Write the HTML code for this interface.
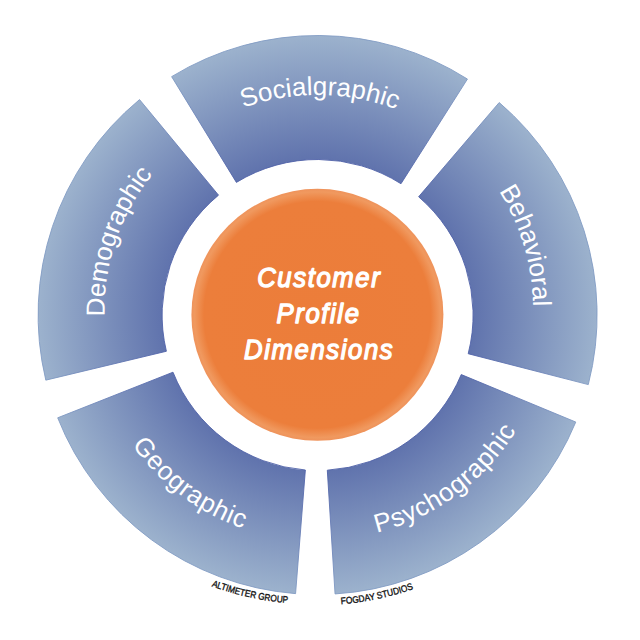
<!DOCTYPE html><html><head><meta charset="utf-8"><style>html,body{margin:0;padding:0;background:#fff;width:640px;height:640px;overflow:hidden}svg{display:block}text{font-family:"Liberation Sans",sans-serif}</style></head><body>
<svg width="640" height="640" viewBox="0 0 640 640">
<defs>
<radialGradient id="sg" gradientUnits="userSpaceOnUse" cx="317.6" cy="315.0" r="279.5"><stop offset="0.5564" stop-color="#6073AD"/><stop offset="1" stop-color="#9CB2CD"/></radialGradient>
<radialGradient id="og" gradientUnits="userSpaceOnUse" cx="317.4" cy="314.8" r="126"><stop offset="0" stop-color="#EC7D3A"/><stop offset="0.9" stop-color="#EC7E3B"/><stop offset="0.975" stop-color="#F0995F"/><stop offset="1" stop-color="#EF935B"/></radialGradient>
<path id="p0" d="M128.24 203.01 L129.22 201.36 L130.22 199.72 L131.23 198.09 L132.26 196.47 L133.30 194.86 L134.36 193.25 L135.43 191.66 L136.51 190.07 L137.61 188.50 L138.72 186.93 L139.84 185.38 L140.98 183.83 L142.13 182.29 L143.30 180.77 L144.47 179.25 L145.67 177.75 L146.87 176.25 L148.09 174.77 L149.32 173.29 L150.56 171.83 L151.82 170.38 L153.08 168.94 L154.37 167.51 L155.66 166.09 L156.96 164.68 L158.28 163.28 L159.61 161.90 L160.95 160.53 L162.31 159.17 L163.67 157.82 L165.05 156.48 L166.44 155.15 L167.84 153.84 L169.25 152.54 L170.68 151.25 L172.11 149.98 L173.56 148.71 L175.01 147.46 L176.48 146.22 L177.96 145.00 L179.45 143.79 L180.95 142.59 L182.46 141.40 L183.98 140.23 L185.51 139.07 L187.05 137.92 L188.60 136.79 L190.16 135.67 L191.73 134.57 L193.31 133.48 L194.90 132.40 L196.49 131.33 L198.10 130.28 L199.72 129.25 L201.34 128.23 L202.98 127.22 L204.62 126.23 L206.27 125.25 L207.93 124.28 L209.60 123.33 L211.28 122.40 L212.96 121.48 L214.66 120.57 L216.36 119.68 L218.06 118.80 L219.78 117.94 L221.50 117.10 L223.23 116.27 L224.97 115.45 L226.72 114.65 L228.47 113.86 L230.23 113.09 L231.99 112.34 L233.76 111.60 L235.54 110.88 L237.33 110.17 L239.12 109.48 L240.91 108.80 L242.72 108.14 L244.52 107.49 L246.34 106.86 L248.16 106.25 L249.98 105.65 L251.81 105.07 L253.65 104.50 L255.48 103.95 L257.33 103.42 L259.18 102.90 L261.03 102.40 L262.89 101.91 L264.75 101.44 L266.62 100.99 L268.48 100.55 L270.36 100.13 L272.24 99.73 L274.12 99.34 L276.00 98.97 L277.89 98.61 L279.78 98.28 L281.67 97.95 L283.56 97.65 L285.46 97.36 L287.36 97.09 L289.26 96.83 L291.17 96.59 L293.08 96.37 L294.99 96.17 L296.90 95.98 L298.81 95.80 L300.72 95.65 L302.64 95.51 L304.55 95.39 L306.47 95.28 L308.39 95.19 L310.31 95.12 L312.22 95.07 L314.14 95.03 L316.06 95.01 L317.98 95.00 L319.90 95.01 L321.82 95.04 L323.74 95.09 L325.66 95.15 L327.58 95.23 L329.50 95.32 L331.41 95.43 L333.33 95.56 L335.24 95.71 L337.16 95.87 L339.07 96.05 L340.98 96.25 L342.89 96.46 L344.79 96.69 L346.70 96.93 L348.60 97.19 L350.50 97.47 L352.39 97.77 L354.29 98.08 L356.18 98.41 L358.07 98.75 L359.95 99.12 L361.84 99.49 L363.72 99.89 L365.59 100.30 L367.46 100.73 L369.33 101.17 L371.20 101.63 L373.06 102.10 L374.91 102.60 L376.76 103.10 L378.61 103.63 L380.45 104.17 L382.29 104.73 L384.12 105.30 L385.95 105.89 L387.77 106.49 L389.59 107.11 L391.40 107.75 L393.21 108.40 L395.01 109.07 L396.80 109.75 L398.59 110.45 L400.37 111.16 L402.14 111.89 L403.91 112.64 L405.68 113.40 L407.43 114.18 L409.18 114.97 L410.92 115.77 L412.66 116.60 L414.39 117.43 L416.11 118.29 L417.82 119.15 L419.53 120.04 L421.22 120.93 L422.91 121.84 L424.59 122.77 L426.27 123.71 L427.93 124.67 L429.59 125.64 L431.24 126.62 L432.88 127.62 L434.51 128.63 L436.13 129.66 L437.74 130.70 L439.35 131.76 L440.94 132.83 L442.53 133.91 L444.10 135.01 L445.67 136.12 L447.22 137.24 L448.77 138.38 L450.31 139.53 L451.83 140.70 L453.35 141.87 L454.85 143.07 L456.35 144.27 L457.83 145.49 L459.31 146.72 L460.77 147.96 L462.22 149.22 L463.66 150.48 L465.09 151.77 L466.51 153.06 L467.92 154.36 L469.32 155.68 L470.70 157.01 L472.07 158.35 L473.43 159.71 L474.78 161.07 L476.12 162.45 L477.45 163.84 L478.76 165.24 L480.06 166.65 L481.35 168.08 L482.62 169.51 L483.89 170.96 L485.14 172.41 L486.38 173.88 L487.60 175.36 L488.81 176.85 L490.01 178.35 L491.20 179.86 L492.37 181.38 L493.53 182.91 L494.68 184.45 L495.81 186.00 L496.93 187.56 L498.03 189.13 L499.12 190.71 L500.20 192.30 L501.27 193.89 L502.32 195.50 L503.35 197.12 L504.37 198.74 L505.38 200.38 L506.37 202.02 L507.35 203.67 L508.32 205.33 L509.27 207.00"/>
<path id="p1" d="M362.86 94.91 L364.77 95.37 L366.67 95.85 L368.56 96.34 L370.46 96.85 L372.34 97.38 L374.23 97.92 L376.10 98.48 L377.97 99.06 L379.84 99.65 L381.70 100.26 L383.55 100.89 L385.40 101.53 L387.24 102.18 L389.08 102.86 L390.91 103.55 L392.73 104.25 L394.54 104.97 L396.35 105.71 L398.15 106.46 L399.95 107.22 L401.74 108.01 L403.52 108.80 L405.29 109.62 L407.05 110.44 L408.81 111.29 L410.56 112.15 L412.30 113.02 L414.03 113.91 L415.76 114.81 L417.48 115.73 L419.18 116.66 L420.88 117.61 L422.57 118.57 L424.25 119.55 L425.93 120.54 L427.59 121.54 L429.24 122.56 L430.89 123.59 L432.52 124.64 L434.15 125.70 L435.76 126.78 L437.37 127.87 L438.97 128.97 L440.55 130.08 L442.13 131.21 L443.69 132.36 L445.25 133.51 L446.79 134.68 L448.32 135.87 L449.85 137.06 L451.36 138.27 L452.86 139.49 L454.35 140.73 L455.82 141.97 L457.29 143.23 L458.75 144.50 L460.19 145.79 L461.62 147.08 L463.04 148.39 L464.45 149.71 L465.85 151.05 L467.23 152.39 L468.61 153.75 L469.97 155.11 L471.31 156.49 L472.65 157.88 L473.97 159.28 L475.28 160.70 L476.58 162.12 L477.86 163.55 L479.13 165.00 L480.39 166.45 L481.64 167.92 L482.87 169.40 L484.09 170.88 L485.29 172.38 L486.49 173.89 L487.67 175.41 L488.83 176.93 L489.98 178.47 L491.12 180.02 L492.24 181.57 L493.35 183.14 L494.45 184.71 L495.53 186.29 L496.60 187.89 L497.65 189.49 L498.69 191.10 L499.71 192.72 L500.72 194.34 L501.72 195.98 L502.70 197.62 L503.67 199.27 L504.62 200.93 L505.56 202.60 L506.48 204.27 L507.38 205.96 L508.28 207.65 L509.15 209.34 L510.02 211.05 L510.86 212.76 L511.69 214.48 L512.51 216.20 L513.31 217.93 L514.10 219.67 L514.87 221.42 L515.62 223.17 L516.36 224.92 L517.08 226.68 L517.79 228.45 L518.48 230.23 L519.16 232.00 L519.82 233.79 L520.47 235.58 L521.10 237.37 L521.71 239.17 L522.31 240.98 L522.89 242.79 L523.45 244.60 L524.00 246.42 L524.54 248.24 L525.06 250.07 L525.56 251.90 L526.04 253.73 L526.51 255.57 L526.96 257.41 L527.40 259.25 L527.82 261.10 L528.22 262.95 L528.61 264.81 L528.98 266.66 L529.34 268.52 L529.68 270.39 L530.00 272.25 L530.31 274.12 L530.60 275.98 L530.87 277.86 L531.13 279.73 L531.37 281.60 L531.59 283.48 L531.80 285.35 L531.99 287.23 L532.16 289.11 L532.32 290.99 L532.46 292.87 L532.59 294.75 L532.70 296.64 L532.79 298.52 L532.87 300.40 L532.92 302.28 L532.97 304.17 L532.99 306.05 L533.00 307.93 L533.00 309.81 L532.97 311.69 L532.94 313.57 L532.88 315.45 L532.81 317.33 L532.72 319.21 L532.61 321.08 L532.49 322.95 L532.36 324.83 L532.20 326.70 L532.03 328.57 L531.84 330.43 L531.64 332.30 L531.42 334.16 L531.19 336.02 L530.94 337.87 L530.67 339.73 L530.39 341.58 L530.09 343.43 L529.77 345.27 L529.44 347.11 L529.09 348.95 L528.73 350.79 L528.35 352.62 L527.95 354.44 L527.54 356.27 L527.12 358.08 L526.67 359.90 L526.22 361.71 L525.74 363.51 L525.25 365.31 L524.75 367.11 L524.23 368.90 L523.69 370.68 L523.14 372.46 L522.57 374.24 L521.99 376.01 L521.39 377.77 L520.78 379.53 L520.15 381.28 L519.51 383.03 L518.85 384.77 L518.18 386.50 L517.49 388.23 L516.79 389.95 L516.07 391.66 L515.34 393.37 L514.59 395.07 L513.83 396.76 L513.05 398.45 L512.26 400.13 L511.46 401.80 L510.64 403.46 L509.80 405.12 L508.95 406.76 L508.09 408.40 L507.22 410.04 L506.33 411.66 L505.42 413.28 L504.51 414.88 L503.57 416.48 L502.63 418.07 L501.67 419.65 L500.70 421.22 L499.71 422.79 L498.71 424.34 L497.70 425.89 L496.68 427.42 L495.64 428.95 L494.59 430.46 L493.52 431.97 L492.45 433.47 L491.36 434.96 L490.25 436.43 L489.14 437.90 L488.01 439.36 L486.87 440.80 L485.72 442.24 L484.55 443.66 L483.38 445.08 L482.19 446.48 L480.99 447.88 L479.78 449.26 L478.55 450.63 L477.32 451.99 L476.07 453.34 L474.81 454.68"/>
<path id="p2" d="M156.83 449.19 L155.63 447.81 L154.44 446.42 L153.26 445.02 L152.10 443.61 L150.95 442.19 L149.81 440.75 L148.68 439.31 L147.57 437.86 L146.46 436.40 L145.37 434.92 L144.30 433.44 L143.23 431.95 L142.18 430.45 L141.14 428.94 L140.11 427.42 L139.10 425.89 L138.10 424.35 L137.12 422.80 L136.14 421.25 L135.18 419.68 L134.24 418.11 L133.30 416.53 L132.39 414.94 L131.48 413.34 L130.59 411.73 L129.71 410.12 L128.85 408.49 L128.00 406.86 L127.16 405.22 L126.34 403.58 L125.54 401.92 L124.74 400.26 L123.96 398.59 L123.20 396.92 L122.45 395.24 L121.72 393.55 L121.00 391.85 L120.29 390.15 L119.60 388.44 L118.92 386.72 L118.26 385.00 L117.62 383.27 L116.99 381.54 L116.37 379.80 L115.77 378.06 L115.18 376.31 L114.61 374.55 L114.06 372.79 L113.52 371.02 L112.99 369.25 L112.48 367.47 L111.99 365.69 L111.51 363.91 L111.05 362.12 L110.60 360.32 L110.17 358.52 L109.75 356.72 L109.35 354.91 L108.96 353.10 L108.60 351.29 L108.24 349.47 L107.90 347.65 L107.58 345.83 L107.28 344.00 L106.99 342.17 L106.71 340.33 L106.45 338.50 L106.21 336.66 L105.99 334.82 L105.78 332.97 L105.58 331.13 L105.40 329.28 L105.24 327.43 L105.10 325.58 L104.97 323.73 L104.85 321.87 L104.76 320.02 L104.68 318.16 L104.61 316.30 L104.56 314.44 L104.53 312.58 L104.51 310.72 L104.51 308.86 L104.53 307.00 L104.56 305.14 L104.61 303.28 L104.68 301.42 L104.76 299.56 L104.86 297.70 L104.97 295.84 L105.10 293.98 L105.25 292.12 L105.41 290.26 L105.59 288.40 L105.78 286.55 L106.00 284.70 L106.22 282.84 L106.47 280.99 L106.73 279.14 L107.00 277.30 L107.30 275.45 L107.61 273.61 L107.93 271.77 L108.27 269.93 L108.63 268.10 L109.00 266.27 L109.39 264.44 L109.80 262.61 L110.22 260.79 L110.65 258.97 L111.11 257.15 L111.58 255.34 L112.06 253.53 L112.56 251.73 L113.08 249.93 L113.61 248.13 L114.16 246.34 L114.72 244.55 L115.30 242.77 L115.90 240.99 L116.51 239.22 L117.14 237.45 L117.78 235.68 L118.44 233.93 L119.11 232.17 L119.80 230.43 L120.50 228.69 L121.22 226.95 L121.96 225.22 L122.71 223.50 L123.47 221.78 L124.25 220.07 L125.05 218.37 L125.86 216.67 L126.68 214.98 L127.52 213.30 L128.38 211.62 L129.25 209.95 L130.13 208.29 L131.03 206.63 L131.95 204.99 L132.88 203.35 L133.82 201.72 L134.78 200.09 L135.75 198.48 L136.73 196.87 L137.73 195.27 L138.75 193.68 L139.77 192.10 L140.82 190.52 L141.87 188.96 L142.94 187.40 L144.03 185.86 L145.12 184.32 L146.24 182.79 L147.36 181.27 L148.50 179.77 L149.65 178.27 L150.81 176.78 L151.99 175.30 L153.18 173.83 L154.39 172.37 L155.60 170.92 L156.83 169.48 L158.08 168.05 L159.33 166.64 L160.60 165.23 L161.88 163.83 L163.17 162.45 L164.48 161.08 L165.80 159.71 L167.13 158.36 L168.47 157.02 L169.82 155.69 L171.19 154.38 L172.56 153.07 L173.95 151.78 L175.35 150.49 L176.76 149.23 L178.19 147.97 L179.62 146.72 L181.07 145.49 L182.52 144.27 L183.99 143.06 L185.47 141.87 L186.96 140.68 L188.46 139.51 L189.97 138.36 L191.49 137.21 L193.02 136.08 L194.56 134.96 L196.11 133.86 L197.67 132.77 L199.24 131.69 L200.82 130.63 L202.41 129.57 L204.01 128.54 L205.61 127.52 L207.23 126.51 L208.86 125.51 L210.49 124.53 L212.14 123.56 L213.79 122.61 L215.45 121.67 L217.12 120.75 L218.80 119.84 L220.49 118.94 L222.18 118.06 L223.89 117.19 L225.60 116.34 L227.32 115.51 L229.04 114.68 L230.78 113.88 L232.52 113.09 L234.26 112.31 L236.02 111.55 L237.78 110.80 L239.55 110.07 L241.33 109.35 L243.11 108.65 L244.90 107.97 L246.69 107.30 L248.49 106.65 L250.30 106.01 L252.11 105.39 L253.93 104.78 L255.75 104.19 L257.58 103.61 L259.42 103.05 L261.26 102.51 L263.10 101.98 L264.95 101.47 L266.81 100.98 L268.67 100.50 L270.53 100.03 L272.40 99.59 L274.27 99.16 L276.15 98.74 L278.03 98.34 L279.92 97.96"/>
<path id="p3" d="M92.11 287.03 L91.88 289.00 L91.67 290.97 L91.47 292.95 L91.29 294.92 L91.13 296.90 L90.99 298.88 L90.87 300.85 L90.76 302.83 L90.67 304.81 L90.59 306.80 L90.54 308.78 L90.50 310.76 L90.48 312.74 L90.47 314.72 L90.49 316.70 L90.52 318.69 L90.57 320.67 L90.63 322.65 L90.71 324.63 L90.81 326.61 L90.93 328.59 L91.06 330.56 L91.21 332.54 L91.38 334.51 L91.57 336.49 L91.77 338.46 L91.99 340.43 L92.23 342.39 L92.48 344.36 L92.75 346.32 L93.04 348.28 L93.35 350.24 L93.67 352.19 L94.01 354.14 L94.37 356.09 L94.74 358.04 L95.13 359.98 L95.54 361.92 L95.97 363.85 L96.41 365.78 L96.86 367.71 L97.34 369.63 L97.83 371.55 L98.34 373.46 L98.87 375.37 L99.41 377.28 L99.97 379.18 L100.54 381.07 L101.13 382.96 L101.74 384.85 L102.36 386.72 L103.00 388.60 L103.66 390.47 L104.33 392.33 L105.02 394.18 L105.73 396.03 L106.45 397.88 L107.19 399.71 L107.94 401.54 L108.71 403.37 L109.50 405.18 L110.30 406.99 L111.11 408.80 L111.95 410.59 L112.80 412.38 L113.66 414.16 L114.54 415.93 L115.43 417.70 L116.34 419.46 L117.27 421.20 L118.21 422.95 L119.16 424.68 L120.14 426.40 L121.12 428.12 L122.12 429.82 L123.14 431.52 L124.17 433.21 L125.21 434.89 L126.27 436.56 L127.34 438.22 L128.43 439.87 L129.54 441.52 L130.65 443.15 L131.78 444.77 L132.93 446.38 L134.09 447.99 L135.26 449.58 L136.45 451.16 L137.65 452.73 L138.86 454.29 L140.09 455.84 L141.33 457.38 L142.59 458.91 L143.85 460.43 L145.13 461.94 L146.43 463.43 L147.74 464.91 L149.05 466.39 L150.39 467.85 L151.73 469.30 L153.09 470.73 L154.46 472.16 L155.84 473.57 L157.24 474.97 L158.64 476.36 L160.06 477.74 L161.49 479.10 L162.94 480.45 L164.39 481.79 L165.86 483.11 L167.33 484.43 L168.82 485.73 L170.32 487.01 L171.83 488.29 L173.36 489.55 L174.89 490.79 L176.43 492.03 L177.99 493.25 L179.55 494.45 L181.13 495.64 L182.71 496.82 L184.31 497.99 L185.92 499.14 L187.53 500.27 L189.16 501.40 L190.79 502.51 L192.44 503.60 L194.09 504.68 L195.76 505.74 L197.43 506.79 L199.11 507.83 L200.80 508.85 L202.50 509.86 L204.21 510.85 L205.93 511.82 L207.65 512.78 L209.38 513.73 L211.13 514.66 L212.88 515.58 L214.63 516.48 L216.40 517.36 L218.17 518.23 L219.95 519.08 L221.74 519.92 L223.53 520.74 L225.33 521.55 L227.14 522.34 L228.96 523.12 L230.78 523.88 L232.61 524.62 L234.44 525.35 L236.29 526.06 L238.13 526.75 L239.99 527.43 L241.85 528.10 L243.71 528.74 L245.58 529.37 L247.46 529.99 L249.34 530.58 L251.22 531.16 L253.11 531.73 L255.01 532.28 L256.91 532.81 L258.81 533.32 L260.72 533.82 L262.64 534.30 L264.55 534.77 L266.48 535.21 L268.40 535.65 L270.33 536.06 L272.26 536.46 L274.20 536.84 L276.14 537.20 L278.08 537.55 L280.02 537.88 L281.97 538.19 L283.92 538.49 L285.87 538.76 L287.83 539.03 L289.78 539.27 L291.74 539.50 L293.70 539.71 L295.67 539.90 L297.63 540.08 L299.60 540.24 L301.56 540.38 L303.53 540.50 L305.50 540.61 L307.47 540.70 L309.44 540.77 L311.41 540.83 L313.38 540.87 L315.35 540.89 L317.32 540.89 L319.30 540.88 L321.27 540.85 L323.24 540.80 L325.21 540.74 L327.18 540.66 L329.14 540.56 L331.11 540.44 L333.08 540.31 L335.04 540.16 L337.01 539.99 L338.97 539.80 L340.93 539.60 L342.89 539.38 L344.84 539.15 L346.80 538.89 L348.75 538.62 L350.70 538.34 L352.65 538.03 L354.59 537.71 L356.53 537.37 L358.47 537.02 L360.40 536.65 L362.33 536.26 L364.26 535.85 L366.19 535.43 L368.11 534.99 L370.02 534.54 L371.93 534.06 L373.84 533.57 L375.75 533.07 L377.64 532.55 L379.54 532.01 L381.43 531.45 L383.31 530.88 L385.19 530.29 L387.07 529.69 L388.94 529.07 L390.80 528.43 L392.66 527.78 L394.51 527.11 L396.35 526.42 L398.19 525.72 L400.03 525.00 L401.85 524.27 L403.67 523.52 L405.49 522.75"/>
<path id="p4" d="M233.49 520.17 L235.27 520.94 L237.05 521.70 L238.84 522.44 L240.64 523.17 L242.44 523.88 L244.25 524.57 L246.06 525.25 L247.89 525.92 L249.71 526.56 L251.55 527.20 L253.39 527.81 L255.23 528.41 L257.09 529.00 L258.94 529.56 L260.80 530.12 L262.67 530.65 L264.54 531.17 L266.42 531.67 L268.30 532.16 L270.19 532.63 L272.08 533.08 L273.97 533.52 L275.87 533.94 L277.78 534.35 L279.68 534.74 L281.60 535.11 L283.51 535.46 L285.43 535.80 L287.35 536.12 L289.27 536.43 L291.20 536.72 L293.13 536.99 L295.06 537.24 L297.00 537.48 L298.94 537.70 L300.88 537.90 L302.82 538.09 L304.77 538.26 L306.71 538.41 L308.66 538.55 L310.61 538.67 L312.56 538.77 L314.51 538.86 L316.47 538.92 L318.42 538.97 L320.38 539.01 L322.33 539.03 L324.29 539.03 L326.24 539.01 L328.20 538.97 L330.16 538.92 L332.12 538.85 L334.07 538.77 L336.03 538.67 L337.98 538.55 L339.94 538.41 L341.89 538.25 L343.85 538.08 L345.80 537.89 L347.75 537.69 L349.70 537.47 L351.65 537.23 L353.59 536.97 L355.54 536.70 L357.48 536.41 L359.42 536.10 L361.35 535.77 L363.29 535.43 L365.22 535.07 L367.15 534.70 L369.08 534.31 L371.00 533.90 L372.92 533.47 L374.84 533.03 L376.75 532.57 L378.66 532.09 L380.57 531.60 L382.47 531.09 L384.37 530.56 L386.26 530.02 L388.15 529.46 L390.04 528.88 L391.92 528.29 L393.79 527.68 L395.66 527.05 L397.53 526.41 L399.39 525.75 L401.24 525.07 L403.09 524.38 L404.93 523.67 L406.77 522.95 L408.60 522.21 L410.43 521.45 L412.24 520.68 L414.06 519.89 L415.86 519.08 L417.66 518.26 L419.45 517.43 L421.24 516.57 L423.02 515.71 L424.79 514.82 L426.55 513.92 L428.31 513.01 L430.06 512.08 L431.80 511.13 L433.53 510.17 L435.25 509.19 L436.97 508.20 L438.68 507.19 L440.38 506.17 L442.07 505.14 L443.75 504.08 L445.42 503.02 L447.09 501.93 L448.74 500.84 L450.39 499.73 L452.02 498.60 L453.65 497.46 L455.27 496.31 L456.88 495.14 L458.47 493.95 L460.06 492.76 L461.64 491.55 L463.20 490.32 L464.76 489.08 L466.31 487.83 L467.84 486.56 L469.37 485.28 L470.88 483.99 L472.38 482.68 L473.87 481.36 L475.35 480.02 L476.82 478.68 L478.28 477.32 L479.73 475.94 L481.16 474.56 L482.58 473.16 L483.99 471.74 L485.39 470.32 L486.78 468.88 L488.15 467.43 L489.51 465.97 L490.86 464.50 L492.19 463.01 L493.52 461.52 L494.83 460.01 L496.13 458.49 L497.41 456.95 L498.68 455.41 L499.94 453.85 L501.18 452.29 L502.41 450.71 L503.63 449.12 L504.84 447.52 L506.03 445.91 L507.20 444.29 L508.36 442.66 L509.51 441.01 L510.65 439.36 L511.77 437.70 L512.87 436.03 L513.96 434.34 L515.04 432.65 L516.10 430.95 L517.15 429.24 L518.18 427.52 L519.20 425.78 L520.20 424.04 L521.19 422.30 L522.16 420.54 L523.12 418.77 L524.06 417.00 L524.99 415.21 L525.90 413.42 L526.80 411.62 L527.68 409.81 L528.54 407.99 L529.39 406.17 L530.22 404.34 L531.04 402.50 L531.84 400.65 L532.63 398.79 L533.40 396.93 L534.15 395.06 L534.89 393.19 L535.61 391.30 L536.31 389.41 L537.00 387.52 L537.67 385.62 L538.33 383.71 L538.97 381.79 L539.59 379.87 L540.20 377.95 L540.78 376.01 L541.36 374.08 L541.91 372.13 L542.45 370.19 L542.97 368.23 L543.48 366.28 L543.96 364.31 L544.43 362.35 L544.89 360.38 L545.32 358.40 L545.74 356.42 L546.14 354.44 L546.53 352.45 L546.89 350.46 L547.24 348.46 L547.58 346.46 L547.89 344.46 L548.19 342.46 L548.47 340.45 L548.73 338.44 L548.98 336.42 L549.21 334.41 L549.42 332.39 L549.61 330.37 L549.78 328.35 L549.94 326.32 L550.08 324.30 L550.20 322.27 L550.31 320.24 L550.39 318.21 L550.46 316.18 L550.51 314.15 L550.55 312.11 L550.56 310.08 L550.56 308.05 L550.54 306.01 L550.50 303.98 L550.45 301.94 L550.37 299.91 L550.28 297.87 L550.17 295.84 L550.05 293.80 L549.90 291.77 L549.74 289.74 L549.56 287.71 L549.36 285.68 L549.15 283.65"/>
<path id="p5" d="M32.78 398.56 L33.57 401.02 L34.39 403.48 L35.22 405.93 L36.08 408.38 L36.95 410.81 L37.85 413.24 L38.77 415.66 L39.71 418.07 L40.67 420.47 L41.65 422.87 L42.65 425.25 L43.67 427.63 L44.71 429.99 L45.78 432.35 L46.86 434.69 L47.96 437.03 L49.09 439.35 L50.23 441.67 L51.40 443.98 L52.58 446.27 L53.78 448.55 L55.00 450.83 L56.25 453.09 L57.51 455.34 L58.79 457.58 L60.09 459.80 L61.41 462.02 L62.75 464.22 L64.11 466.41 L65.48 468.59 L66.88 470.76 L68.29 472.91 L69.73 475.05 L71.18 477.18 L72.65 479.29 L74.13 481.39 L75.64 483.48 L77.16 485.55 L78.70 487.62 L80.26 489.66 L81.84 491.69 L83.43 493.71 L85.04 495.72 L86.67 497.71 L88.31 499.68 L89.98 501.64 L91.65 503.59 L93.35 505.51 L95.06 507.43 L96.79 509.33 L98.53 511.21 L100.29 513.08 L102.07 514.93 L103.86 516.77 L105.67 518.59 L107.49 520.39 L109.33 522.18 L111.18 523.95 L113.05 525.71 L114.94 527.45 L116.83 529.17 L118.75 530.87 L120.67 532.56 L122.62 534.23 L124.57 535.88 L126.54 537.52 L128.52 539.14 L130.52 540.74 L132.53 542.32 L134.56 543.88 L136.59 545.43 L138.64 546.96 L140.71 548.47 L142.78 549.96 L144.87 551.43 L146.97 552.89 L149.09 554.33 L151.21 555.74 L153.35 557.14 L155.50 558.52 L157.66 559.88 L159.83 561.22 L162.01 562.55 L164.21 563.85 L166.41 565.13 L168.63 566.40 L170.86 567.64 L173.09 568.86 L175.34 570.07 L177.60 571.25 L179.86 572.42 L182.14 573.56 L184.43 574.69 L186.72 575.79 L189.02 576.88 L191.34 577.94 L193.66 578.98 L195.99 580.01 L198.33 581.01 L200.68 581.99 L203.03 582.95 L205.40 583.89 L207.77 584.81 L210.15 585.71 L212.53 586.59 L214.92 587.44 L217.32 588.28 L219.73 589.09 L222.14 589.89 L224.56 590.66 L226.99 591.41 L229.42 592.14 L231.86 592.85 L234.30 593.53 L236.75 594.20 L239.20 594.84 L241.66 595.46 L244.13 596.06 L246.60 596.64 L249.07 597.20 L251.55 597.73 L254.03 598.25 L256.51 598.74 L259.00 599.21 L261.49 599.66 L263.99 600.08 L266.49 600.49 L268.99 600.87 L271.50 601.23 L274.00 601.57 L276.51 601.88 L279.03 602.18 L281.54 602.45 L284.06 602.70 L286.57 602.93 L289.09 603.14 L291.61 603.32 L294.14 603.48 L296.66 603.62 L299.18 603.74 L301.70 603.84 L304.23 603.91 L306.75 603.97 L309.28 604.00 L311.80 604.00 L314.32 603.99 L316.84 603.95 L319.36 603.90 L321.88 603.82 L324.40 603.71 L326.92 603.59 L329.44 603.45 L331.95 603.28 L334.46 603.09 L336.97 602.88 L339.48 602.64 L341.99 602.39 L344.49 602.11 L346.99 601.81 L349.48 601.49 L351.97 601.15 L354.46 600.79 L356.95 600.40 L359.43 599.99 L361.91 599.56 L364.38 599.11 L366.85 598.64 L369.31 598.15 L371.77 597.63 L374.22 597.10 L376.67 596.54 L379.12 595.96 L381.55 595.36 L383.99 594.74 L386.41 594.10 L388.83 593.44 L391.24 592.75 L393.65 592.05 L396.05 591.32 L398.45 590.58 L400.83 589.81 L403.21 589.02 L405.58 588.21 L407.95 587.38 L410.30 586.53 L412.65 585.66 L414.99 584.77 L417.32 583.86 L419.65 582.93 L421.96 581.98 L424.27 581.01 L426.56 580.02 L428.85 579.01 L431.13 577.98 L433.40 576.93 L435.66 575.86 L437.91 574.77 L440.15 573.67 L442.38 572.54 L444.60 571.39 L446.80 570.23 L449.00 569.04 L451.19 567.84 L453.36 566.62 L455.53 565.37 L457.68 564.11 L459.82 562.84 L461.95 561.54 L464.07 560.22 L466.18 558.89 L468.27 557.54 L470.36 556.17 L472.43 554.78 L474.48 553.38 L476.53 551.96 L478.56 550.52 L480.58 549.06 L482.58 547.58 L484.58 546.09 L486.55 544.58 L488.52 543.06 L490.47 541.51 L492.41 539.95 L494.33 538.38 L496.24 536.79 L498.13 535.18 L500.01 533.55 L501.88 531.91 L503.73 530.25 L505.57 528.58 L507.39 526.89 L509.19 525.19 L510.98 523.47 L512.76 521.74 L514.52 519.99 L516.26 518.22 L517.99 516.44 L519.70 514.65 L521.40 512.84 L523.08 511.02"/>
<path id="p6" d="M101.77 509.06 L103.47 510.94 L105.19 512.80 L106.92 514.65 L108.67 516.48 L110.44 518.29 L112.22 520.09 L114.02 521.88 L115.83 523.65 L117.66 525.40 L119.50 527.14 L121.36 528.86 L123.23 530.56 L125.12 532.25 L127.03 533.92 L128.94 535.58 L130.88 537.21 L132.82 538.84 L134.78 540.44 L136.76 542.03 L138.74 543.60 L140.75 545.15 L142.76 546.68 L144.79 548.20 L146.83 549.70 L148.89 551.18 L150.95 552.64 L153.03 554.09 L155.13 555.51 L157.23 556.92 L159.35 558.31 L161.48 559.69 L163.62 561.04 L165.77 562.37 L167.94 563.69 L170.11 564.98 L172.30 566.26 L174.50 567.52 L176.71 568.76 L178.93 569.98 L181.16 571.18 L183.40 572.36 L185.65 573.52 L187.91 574.66 L190.18 575.79 L192.46 576.89 L194.75 577.97 L197.05 579.03 L199.36 580.07 L201.68 581.10 L204.00 582.10 L206.34 583.08 L208.68 584.04 L211.03 584.98 L213.39 585.90 L215.76 586.80 L218.14 587.68 L220.52 588.53 L222.91 589.37 L225.31 590.19 L227.72 590.98 L230.13 591.76 L232.55 592.51 L234.97 593.24 L237.40 593.95 L239.84 594.64 L242.28 595.31 L244.73 595.95 L247.19 596.58 L249.65 597.18 L252.11 597.77 L254.58 598.33 L257.06 598.87 L259.53 599.38 L262.02 599.88 L264.51 600.35 L267.00 600.81 L269.50 601.24 L271.99 601.64 L274.50 602.03 L277.00 602.40 L279.51 602.74 L282.03 603.06 L284.54 603.36 L287.06 603.64 L289.58 603.89 L292.10 604.13 L294.63 604.34 L297.15 604.53 L299.68 604.70 L302.21 604.84 L304.74 604.96 L307.27 605.07 L309.80 605.15 L312.33 605.20 L314.86 605.24 L317.40 605.25 L319.93 605.24 L322.46 605.21 L325.00 605.16 L327.53 605.08 L330.06 604.98 L332.59 604.86 L335.12 604.72 L337.64 604.56 L340.17 604.37 L342.70 604.16 L345.22 603.93 L347.74 603.68 L350.26 603.41 L352.77 603.11 L355.28 602.79 L357.79 602.45 L360.30 602.09 L362.80 601.71 L365.31 601.30 L367.80 600.88 L370.29 600.43 L372.78 599.96 L375.27 599.46 L377.75 598.95 L380.22 598.41 L382.69 597.86 L385.16 597.28 L387.62 596.68 L390.08 596.06 L392.53 595.41 L394.97 594.75 L397.41 594.06 L399.84 593.35 L402.27 592.63 L404.69 591.88 L407.10 591.11 L409.51 590.32 L411.90 589.50 L414.30 588.67 L416.68 587.82 L419.06 586.94 L421.43 586.04 L423.79 585.13 L426.14 584.19 L428.49 583.23 L430.82 582.26 L433.15 581.26 L435.47 580.24 L437.78 579.20 L440.08 578.14 L442.37 577.06 L444.66 575.96 L446.93 574.85 L449.19 573.71 L451.44 572.55 L453.69 571.37 L455.92 570.17 L458.14 568.96 L460.35 567.72 L462.55 566.47 L464.74 565.19 L466.92 563.90 L469.08 562.58 L471.24 561.25 L473.38 559.90 L475.51 558.53 L477.63 557.15 L479.74 555.74 L481.83 554.32 L483.91 552.88 L485.98 551.41 L488.04 549.94 L490.08 548.44 L492.11 546.93 L494.13 545.39 L496.14 543.84 L498.13 542.28 L500.10 540.69 L502.07 539.09 L504.01 537.47 L505.95 535.84 L507.87 534.19 L509.77 532.52 L511.66 530.83 L513.54 529.13 L515.40 527.41 L517.25 525.68 L519.08 523.93 L520.89 522.16 L522.69 520.38 L524.48 518.58 L526.25 516.77 L528.00 514.94 L529.74 513.10 L531.46 511.24 L533.16 509.37 L534.85 507.48 L536.52 505.57 L538.18 503.66 L539.81 501.72 L541.44 499.78 L543.04 497.82 L544.63 495.84 L546.20 493.86 L547.75 491.85 L549.28 489.84 L550.80 487.81 L552.30 485.77 L553.78 483.71 L555.24 481.65 L556.69 479.57 L558.11 477.47 L559.52 475.37 L560.91 473.25 L562.29 471.12 L563.64 468.98 L564.97 466.83 L566.29 464.66 L567.58 462.49 L568.86 460.30 L570.12 458.10 L571.36 455.89 L572.58 453.67 L573.78 451.44 L574.96 449.20 L576.12 446.95 L577.26 444.69 L578.39 442.42 L579.49 440.14 L580.57 437.85 L581.63 435.55 L582.67 433.24 L583.70 430.92 L584.70 428.60 L585.68 426.26 L586.64 423.92 L587.58 421.57 L588.50 419.21 L589.40 416.84 L590.28 414.46 L591.13 412.08 L591.97 409.69 L592.79 407.29 L593.58 404.88"/>
<radialGradient id="sgs" gradientUnits="userSpaceOnUse" cx="317.6" cy="315.0" r="279.5"><stop offset="0.5564" stop-color="#4F61A8"/><stop offset="1" stop-color="#829CC4"/></radialGradient>
</defs>
<rect width="640" height="640" fill="#fff"/>
<path d="M295.57 593.63 A279.5 279.5 0 0 1 57.69 417.80 L173.00 372.19 A155.5 155.5 0 0 0 305.35 470.02 Z" fill="url(#sg)" stroke="url(#sgs)" stroke-width="0.9"/>
<path d="M45.80 380.15 A279.5 279.5 0 0 1 139.52 99.58 L218.52 195.15 A155.5 155.5 0 0 0 166.38 351.25 Z" fill="url(#sg)" stroke="url(#sgs)" stroke-width="0.9"/>
<path d="M171.64 76.64 A279.5 279.5 0 0 1 467.45 79.06 L400.97 183.74 A155.5 155.5 0 0 0 236.40 182.39 Z" fill="url(#sg)" stroke="url(#sgs)" stroke-width="0.9"/>
<path d="M499.19 102.53 A279.5 279.5 0 0 1 588.29 384.60 L468.20 353.72 A155.5 155.5 0 0 0 418.63 196.79 Z" fill="url(#sg)" stroke="url(#sgs)" stroke-width="0.9"/>
<path d="M575.79 422.05 A279.5 279.5 0 0 1 335.05 593.95 L327.31 470.20 A155.5 155.5 0 0 0 461.24 374.56 Z" fill="url(#sg)" stroke="url(#sgs)" stroke-width="0.9"/>
<circle cx="317.4" cy="314.8" r="126" fill="url(#og)"/>
<text font-size="26" fill="#fff" letter-spacing="0"><textPath href="#p0" startOffset="230.38" text-anchor="middle">Socialgraphic</textPath></text>
<text font-size="26" fill="#fff" letter-spacing="-0.11"><textPath href="#p1" startOffset="231.65" text-anchor="middle">Behavioral</textPath></text>
<text font-size="26" fill="#fff" letter-spacing="-0.115"><textPath href="#p2" startOffset="222.21" text-anchor="middle">Demographic</textPath></text>
<text font-size="26" fill="#fff" letter-spacing="0.75"><textPath href="#p3" startOffset="237.52" text-anchor="middle">Geographic</textPath></text>
<text font-size="26" fill="#fff" letter-spacing="0.57"><textPath href="#p4" startOffset="235.40" text-anchor="middle">Psychographic</textPath></text>
<text font-size="9.5" fill="#111" stroke="#111" stroke-width="0.35"><textPath href="#p5" startOffset="307.53" text-anchor="middle" textLength="78.5" lengthAdjust="spacingAndGlyphs">ALTIMETER GROUP</textPath></text>
<text font-size="9.5" fill="#111" stroke="#111" stroke-width="0.35"><textPath href="#p6" startOffset="303.95" text-anchor="middle" textLength="74.2" lengthAdjust="spacingAndGlyphs">FOGDAY STUDIOS</textPath></text>
<g fill="#fff" stroke="#fff" stroke-width="1.4" stroke-linejoin="round" font-size="28.5" font-weight="normal" font-style="italic" text-anchor="middle" letter-spacing="1.8">
<text transform="translate(319.3 286.5) scale(0.9 1)">Customer</text>
<text transform="translate(318.55 323) scale(0.9 1)">Profile</text>
<text transform="translate(319.2 358.8) scale(0.9 1)">Dimensions</text>
</g>
</svg></body></html>
